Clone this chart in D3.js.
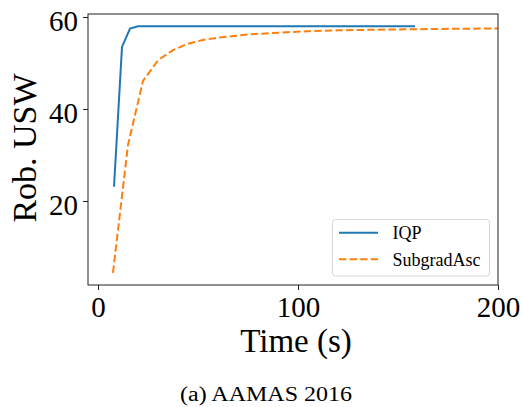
<!DOCTYPE html>
<html><head><meta charset="utf-8">
<script src="https://cdn.jsdelivr.net/npm/d3@7"></script>
<style>body{margin:0;background:#fff}svg{display:block}text{font-family:"Liberation Serif","Times New Roman",serif;fill:#000}</style>
</head><body>
<svg id="c" width="523" height="407"></svg>
<script>
const iqpTime = [8, 12, 16, 20, 40, 80, 120, 158.5];
const iqpUSW  = [23.1, 53.5, 57.5, 58.0, 58.0, 58.0, 58.0, 58.0];
const sgTime = [7.5, 15, 22.5, 30, 37.5, 45, 52.5, 60, 75, 90, 105, 120, 140, 160, 180, 200];
const sgUSW  = [4.4, 32.2, 46.1, 50.6, 52.8, 54.2, 55.0, 55.5, 56.2, 56.6, 56.9, 57.1, 57.25, 57.35, 57.45, 57.5];
const xTicks = [0, 100, 200];
const yTicks = [20, 40, 60];
const seriesNames = ["IQP", "SubgradAsc"];
const colors = ["#1f77b4", "#ff7f0e"];

const svg = d3.select("#c");
const L = 88, R = 498, T = 14, B = 285;
const x = d3.scaleLinear().domain([-5, 200]).range([L, R]);
const y = d3.scaleLinear().domain([1.74, 60.65]).range([B, T]);

const line = d3.line().x(d => x(d[0])).y(d => y(d[1]));
const iqp = iqpTime.map((t, i) => [t, iqpUSW[i]]);
const sg = sgTime.map((t, i) => [t, sgUSW[i]]);

svg.append("path").attr("d", line(iqp)).attr("fill", "none").attr("stroke", colors[0]).attr("stroke-width", 2);
svg.append("path").attr("d", line(sg)).attr("fill", "none").attr("stroke", colors[1]).attr("stroke-width", 2).attr("stroke-dasharray", "7.4,3.2");

// frame
svg.append("rect").attr("x", L).attr("y", T).attr("width", R - L).attr("height", B - T)
  .attr("fill", "none").attr("stroke", "#222").attr("stroke-width", 1);

const xa = svg.append("g").attr("transform", `translate(0,${B})`)
  .call(d3.axisBottom(x).tickValues(xTicks).tickSize(5).tickPadding(6));
const ya = svg.append("g").attr("transform", `translate(${L},0)`)
  .call(d3.axisLeft(y).tickValues(yTicks).tickSize(5).tickPadding(5));
[xa, ya].forEach(a => {
  a.select(".domain").remove();
  a.selectAll("line").attr("stroke", "#222").attr("stroke-width", 1);
  a.selectAll("text").style("font-family", '"Liberation Serif",serif').style("font-size", "29px").attr("fill", "#000");
});
xa.selectAll("text").attr("dy", "0.72em");
ya.selectAll("text").attr("dy", "0.46em");

svg.append("text").attr("x", 296).attr("y", 352).attr("text-anchor", "middle")
  .style("font-size", "33px").text("Time (s)");
svg.append("text").attr("transform", `translate(36,148) rotate(-90)`).attr("text-anchor", "middle")
  .style("font-size", "34px").text("Rob. USW");
svg.append("text").attr("x", 266).attr("y", 401).attr("text-anchor", "middle")
  .attr("textLength", 172).attr("lengthAdjust", "spacingAndGlyphs")
  .style("font-size", "20px").text("(a) AAMAS 2016");

// legend
const lg = svg.append("g");
lg.append("rect").attr("x", 332.5).attr("y", 219.5).attr("width", 157).attr("height", 56.5).attr("rx", 3)
  .attr("fill", "#fff").attr("fill-opacity", 0.8).attr("stroke", "#d6d6d6").attr("stroke-width", 1);
seriesNames.forEach((n, i) => {
  const yy = 232.7 + i * 26.6;
  lg.append("line").attr("x1", 339).attr("x2", 378).attr("y1", yy).attr("y2", yy)
    .attr("stroke", colors[i]).attr("stroke-width", 2).attr("stroke-dasharray", i ? "7.4,3.2" : null);
  lg.append("text").attr("x", 392.5).attr("y", yy + 6.3).style("font-size", "18px").text(n);
});
</script>
</body></html>
